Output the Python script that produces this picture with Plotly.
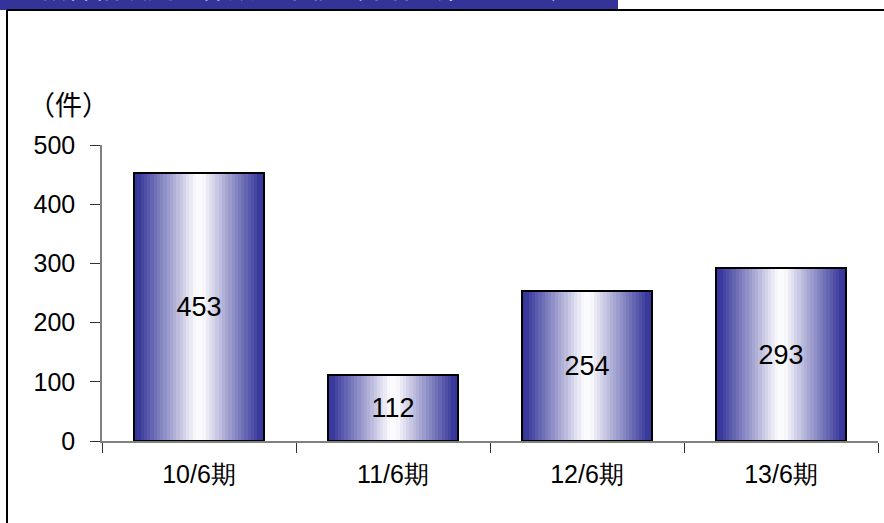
import plotly.graph_objects as go

# ---- data ----
categories = ["10/6期", "11/6期", "12/6期", "13/6期"]
values = [453, 112, 254, 293]
y_ticks = [0, 100, 200, 300, 400, 500]
unit_label = "（件）"
title_text = "顧客相談受付件数の推移（単体会社ベース）"

# ---- layout geometry (pixels) ----
W, H = 884, 523
L, R, T, B = 102, 6, 145, 82
pw, ph = W - L - R, H - T - B


def px_x(p):
    return (p - L) / pw


def px_y(p):
    return (H - B - p) / ph


FONT = "Liberation Sans, Arial, sans-serif"
BLUE = (51, 51, 153)

fig = go.Figure()

# gradient bars built from thin strips
bar_w = 0.67
N = 40
for k in range(N):
    c = (k + 0.5) / N
    d = abs(c - 0.5) * 2  # 0 at centre, 1 at edge
    s = min(1.0, max(0.0, (d - 0.06) / 0.88)) ** 0.95
    s = 0.02 + 0.96 * s
    col = tuple(round(255 + (b - 255) * s) for b in BLUE)
    fig.add_trace(go.Bar(
        x=categories, y=values,
        width=bar_w / N * 1.15,
        offset=-bar_w / 2 + k * bar_w / N,
        marker=dict(color="rgb(%d,%d,%d)" % col, line=dict(width=0)),
        hoverinfo="skip", showlegend=False,
    ))

# outline + labels
fig.add_trace(go.Bar(
    x=categories, y=values,
    width=bar_w, offset=-bar_w / 2,
    marker=dict(color="rgba(0,0,0,0)", line=dict(color="black", width=2)),
    text=[str(v) for v in values],
    textposition="inside", insidetextanchor="middle",
    textfont=dict(family=FONT, size=27, color="black"),
    constraintext="none",
    showlegend=False,
))

fig.update_layout(
    width=W, height=H,
    margin=dict(l=L, r=R, t=T, b=B),
    paper_bgcolor="white", plot_bgcolor="white",
    barmode="overlay", bargap=0,
    showlegend=False,
    font=dict(family=FONT, color="black"),
    xaxis=dict(
        showline=True, linecolor="#808080", linewidth=1.5,
        ticks="outside", tickson="boundaries", ticklen=10,
        tickcolor="#333333", tickwidth=1,
        tickfont=dict(family=FONT, size=25, color="black"),
        ticklabelstandoff=10,
        showgrid=False, zeroline=False,
        range=[-0.5, 3.5],
    ),
    yaxis=dict(
        range=[0, 500], tickvals=y_ticks,
        showline=True, linecolor="#808080", linewidth=1.5,
        ticks="outside", ticklen=10, tickcolor="#333333", tickwidth=1,
        tickfont=dict(family=FONT, size=25, color="black"),
        ticklabelstandoff=10,
        showgrid=False, zeroline=False,
    ),
)

# banner and frame
fig.add_shape(type="rect", xref="paper", yref="paper",
              x0=px_x(0), x1=px_x(618), y0=px_y(10), y1=px_y(-5),
              fillcolor="rgb(51,51,153)", line=dict(width=0), layer="below")
fig.add_shape(type="line", xref="paper", yref="paper",
              x0=px_x(7), x1=px_x(900), y0=px_y(10), y1=px_y(10),
              line=dict(color="black", width=2))
fig.add_shape(type="line", xref="paper", yref="paper",
              x0=px_x(7), x1=px_x(7), y0=px_y(10), y1=px_y(540),
              line=dict(color="black", width=2))

# title (mostly cut off by the page top, as in the reference)
fig.add_annotation(xref="paper", yref="paper", x=px_x(37), y=px_y(8.5),
                   xanchor="left", yanchor="bottom", showarrow=False,
                   text=title_text,
                   font=dict(family="Noto Sans CJK JP", size=27, color="white"))

# unit label
fig.add_annotation(xref="paper", yref="paper", x=px_x(68), y=px_y(104),
                   xanchor="center", yanchor="middle", showarrow=False,
                   text=unit_label,
                   font=dict(family="Noto Sans CJK JP", size=27, color="black"))

fig.write_html("out.html")
